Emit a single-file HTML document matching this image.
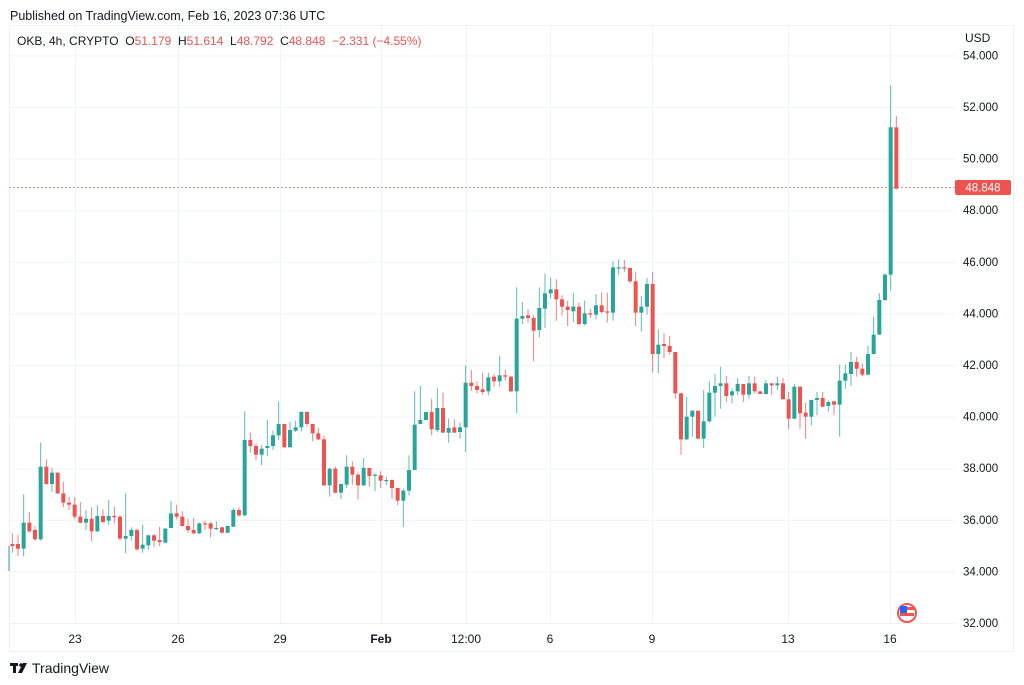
<!DOCTYPE html>
<html><head><meta charset="utf-8"><style>
body{margin:0;background:#fff;width:1024px;height:685px;overflow:hidden;font-family:"Liberation Sans",sans-serif}
svg{position:absolute;left:0;top:0}
</style></head><body>
<svg id="s" width="1024" height="685" viewBox="0 0 1024 685" xmlns="http://www.w3.org/2000/svg" font-family="Liberation Sans, sans-serif">
<rect x="9.5" y="25.5" width="1004" height="626" fill="#fff" stroke="#eef0f3"/>
<g id="grid" stroke="#f0f3fa" stroke-width="1"></g>
<line x1="9" y1="623.5" x2="955" y2="623.5" stroke="#eef0f3"/>
<line x1="9" y1="187.5" x2="955" y2="187.5" stroke="#f28f8d" stroke-dasharray="2 2"/>
<g id="c"></g>
<text x="10" y="20" font-size="12.5" fill="#131722">Published on TradingView.com, Feb 16, 2023 07:36 UTC</text>
<text x="17" y="45" font-size="12" fill="#131722" xml:space="preserve">OKB, 4h, CRYPTO  O<tspan fill="#ef5350">51.179</tspan>  H<tspan fill="#ef5350">51.614</tspan>  L<tspan fill="#ef5350">48.792</tspan>  C<tspan fill="#ef5350">48.848  −2.331 (−4.55%)</tspan></text>
<text x="965" y="42" font-size="12" fill="#131722">USD</text>
<g id="py" font-size="11.5" fill="#131722"></g>
<rect x="955" y="180" width="56" height="15" rx="2" fill="#ef5350"/>
<text x="983" y="191.5" font-size="11.5" fill="#fff" text-anchor="middle">48.848</text>
<g font-size="12" fill="#131722" text-anchor="middle">
<text x="75" y="643">23</text><text x="178" y="643">26</text><text x="280" y="643">29</text>
<text x="381" y="643" font-weight="bold">Feb</text><text x="466" y="643">12:00</text><text x="550" y="643">6</text>
<text x="652" y="643">9</text><text x="788" y="643">13</text><text x="890" y="643">16</text></g>
<circle cx="907" cy="613" r="9" fill="#fff" stroke="#ef5350" stroke-width="2"/>
<rect x="900" y="607" width="14" height="3" fill="#ef5350"/><rect x="900" y="613" width="14" height="3" fill="#ef5350"/>
<rect x="900" y="606" width="7" height="7" fill="#2962ff"/>
<g fill="#131722"><rect x="10" y="663" width="8" height="3"/><rect x="13" y="663" width="3" height="10"/><circle cx="21" cy="665" r="1.8"/><polygon points="23,663 27,663 22,673 18,673"/></g>
<text x="32" y="673" font-size="14" fill="#131722">TradingView</text>
</svg>
<script>
var ns="http://www.w3.org/2000/svg",g=document.getElementById('grid'),py=document.getElementById('py'),cg=document.getElementById('c');
function el(p,t,a){var e=document.createElementNS(ns,t);for(var k in a)e.setAttribute(k,a[k]);p.appendChild(e);return e;}
for(var p=32;p<=54;p+=2){var y=623-(p-32)*25.8;if(p>32)el(g,'line',{x1:9,x2:955,y1:y+.5,y2:y+.5});var t=el(py,'text',{x:963,y:y+4});t.textContent=p.toFixed(3);}
[75,178,280,381,466,550,652,788,890].forEach(function(x){el(g,'line',{x1:x+.5,x2:x+.5,y1:26,y2:623});});
var G=[[400,[[432,438,400,458],[432,446,404,468],[446,368,283,470],[368,394,336,398],[390,418,378,422],[418,200,128,422],[200,252,178,254],[252,218,204,276],[218,280,218,282],[280,308,246,322],[308,314,290,330],[314,350,292,356],[350,368,306,370],[368,356,330,390],[356,394,322,424],[394,348,316,396],[348,366,328,370],[362,348,300,374],[348,350,320,370],[350,416,346,422],[416,408,280,460],[408,390,382,422],[390,448,386,452],[446,434,374,458],[436,406,404,450],[406,422,402,442],[420,426,380,438],[428,386,384,428],[384,340,302,384],[340,350,314,358],[350,378,334,380],[378,390,356,398],[390,400,354,402],[400,370,368,402],[370,372,362,390],[370,386,366,412],[386,384,364,390],[382,398,380,400],[398,378,376,400],[380,330,324,382],[330,346,322,350],[346,120,34,348],[120,138,98,158]]],
[350,[[288,314,280,330],[314,296,286,346],[294,288,210,318],[288,256,242,300],[256,222,154,270],[222,292,222,292],[292,240,216,292],[242,232,212,246],[232,186,184,244],[186,222,184,230],[222,250,222,274],[250,268,234,270],[268,406,256,408],[406,356,354,440],[356,428,350,430],[428,402,402,448],[404,350,316,414],[350,374,334,404],[374,406,368,448],[406,354,324,408],[354,378,354,410],[376,374,370,424],[376,392,364,414],[392,390,380,406],[390,414,388,446],[414,452,414,466],[452,422,416,532],[422,360,316,436],[360,224,124,360],[222,210,108,222],[210,186,186,210],[186,238,146,256],[240,174,114,246],[174,248,128,248],[248,234,206,278],[232,248,208,248],[246,232,218,266],[232,98,46,306],[98,108,60,122],[108,120,94,130],[118,126,68,134],[124,82,68,136],[80,94,72,110],[94,76,18,110],[76,80,60,92],[80,124,78,126]]],
[250,[[424,206,112,490],[206,198,156,222],[196,204,178,218],[204,242,196,334],[240,174,112,262],[176,130,70,234],[130,118,82,146],[118,148,88,212],[148,170,136,196],[170,180,152,228],[184,170,128,216],[170,222,158,226],[222,190,152,226],[190,194,176,204],[194,166,132,208],[166,186,128,190],[184,188,128,218],[188,52,34,212],[54,52,28,74],[52,54,30,66],[54,94,54,100],[94,188,66,228],[188,170,138,244],[170,102,84,194],[102,312,66,368],[312,284,238,370],[282,288,250,324],[288,306,258,314],[306,430,306,446],[430,568,428,614],[568,500,440,570],[500,482,482,560],[482,566,482,566]]],
[80,[[1076,1024,930,1104],[1024,938,904,1028],[938,918,882,1010],[918,910,860,986],[910,948,888,966],[946,934,926,970],[934,912,894,946],[912,944,912,966],[944,910,888,956],[910,934,890,940],[934,942,934,942],[942,910,900,944],[910,916,910,944],[916,910,890,930],[910,958,894,958],[958,1016,936,1048],[1016,920,912,1018],[920,1000,920,1046],[998,1010,968,1076],[1010,960,960,1036],[960,954,936,1006],[954,980,936,982],[978,966,962,994],[964,974,962,1004],[974,902,854,1070],[902,880,854,926],[882,846,816,918],[846,866,830,890],[866,884,850,888],[884,822,798,886],[822,764,710,824],[764,660,640,764],[660,584,580,664],[584,142,16,632],[142,326,108,328]]]];
el(cg,'line',{x1:9,x2:9,y1:546,y2:571,stroke:'#26a69a'});
var i=0;G.forEach(function(gr){var y0=gr[0];gr[1].forEach(function(c){var x=12.33+i*17/3;i++;
var o=y0+c[0]/3,cl=y0+c[1]/3,h=y0+c[2]/3,l=y0+c[3]/3;var up=cl<=o;var col=up?'#26a69a':'#ef5350';
el(cg,'line',{x1:x,x2:x,y1:h,y2:l,stroke:col,'stroke-width':1,opacity:0.75});
var top=Math.min(o,cl),hh=Math.max(Math.abs(o-cl),1.2);
el(cg,'rect',{x:x-2,y:top,width:4,height:hh,fill:col});});});
</script>
</body></html>
